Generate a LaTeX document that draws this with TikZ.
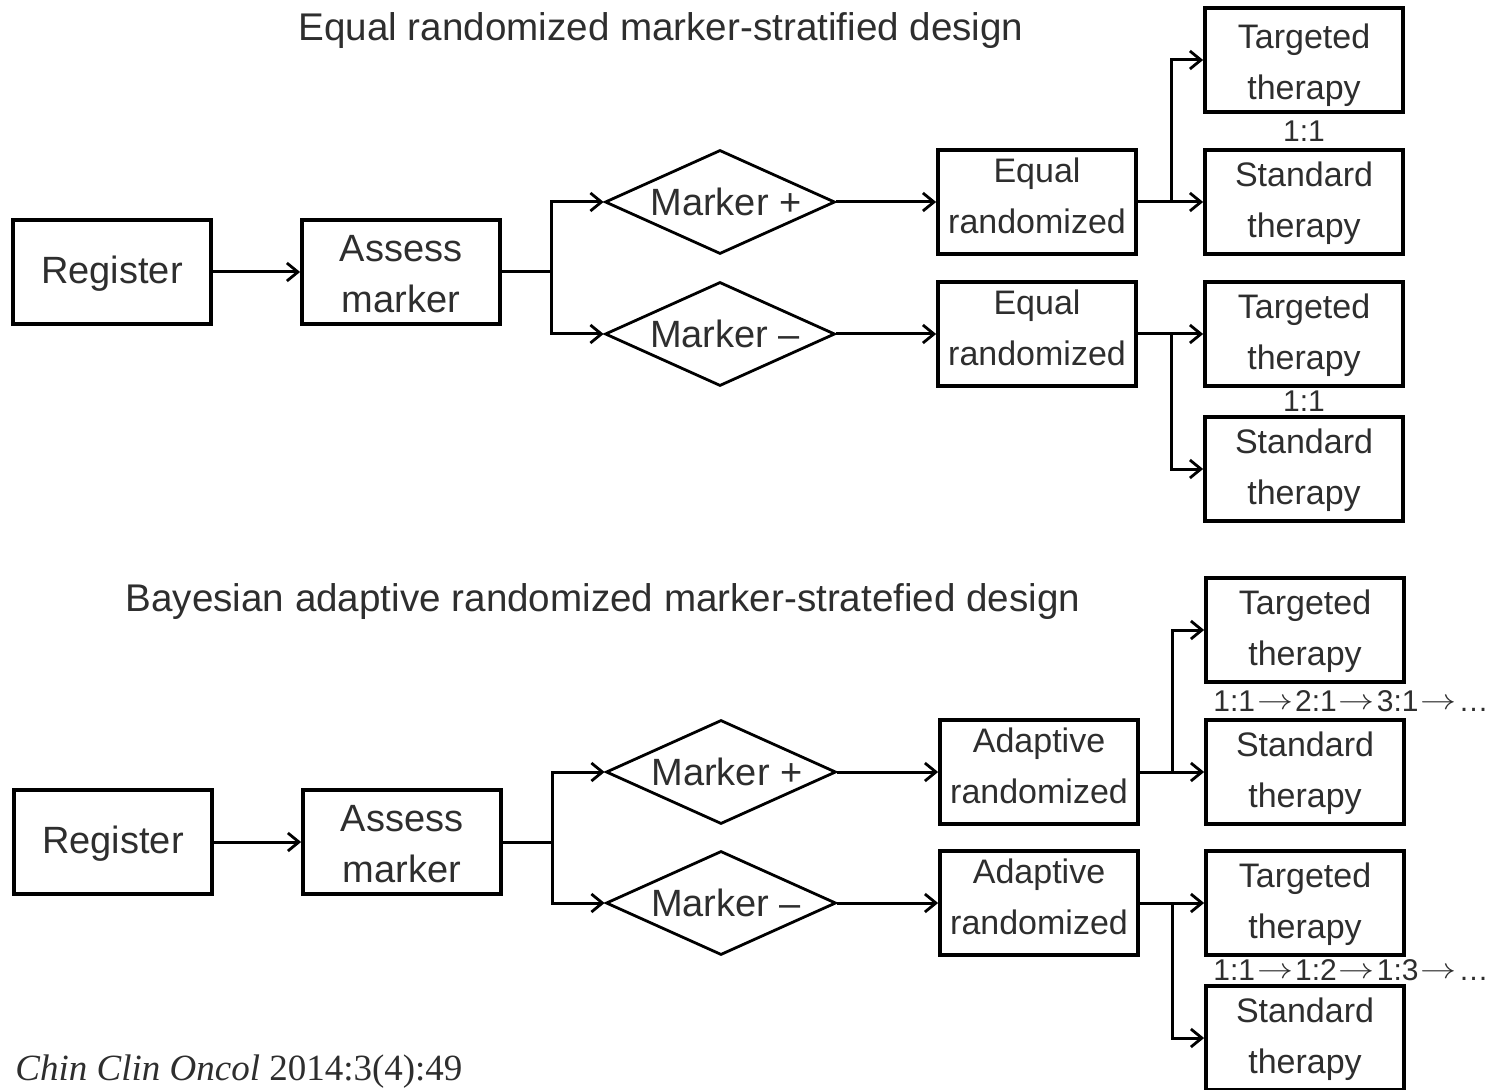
\documentclass[tikz,border=0pt]{standalone}
\usepackage{fontspec}
\setmainfont{Liberation Sans}
\newfontfamily\citefont{Liberation Serif}
\usetikzlibrary{shapes.geometric,arrows.meta}
\definecolor{txt}{HTML}{2E2E2E}
% two centred lines, moved up or down by #1 without changing the text box
\newcommand{\twolines}[3][0pt]{\raisebox{#1}[\height][\depth]{\begin{tabular}{@{}c@{}}#2\\#3\end{tabular}}}
% arrow between successive ratios
\newcommand{\nextratio}{\hspace{1pt}\raisebox{0.8pt}{\scalebox{1.25}[1]{$\rightarrow$}}\hspace{1pt}}
\begin{document}
\begin{tikzpicture}[x=0.5pt,y=-0.5pt,
  bigtext/.style={font=\fontsize{19}{25.5}\selectfont},
  smalltext/.style={font=\fontsize{17}{25.5}\selectfont},
  box/.style={draw, line width=1.9pt, minimum width=99pt, minimum height=52pt,
    inner sep=0pt, align=center, text=txt},
  bigbox/.style={box, bigtext},
  smallbox/.style={box, smalltext},
  decide/.style={draw, shape=diamond, line width=1.4pt, minimum width=115pt,
    minimum height=52pt, inner sep=0pt, text=txt, bigtext},
  ln/.style={line width=1.5pt},
  arr/.style={ln, -{Straight Barb[length=5.5pt,width=9pt,line width=1.4pt]}},
  ratio/.style={text=txt, font=\fontsize{15}{16}\selectfont, inner sep=0pt},
  heading/.style={text=txt, font=\fontsize{19.3}{22}\selectfont, inner sep=0pt, anchor=base}]

\useasboundingbox (0,0) rectangle (1491,1090);

% ---------- equal randomized design ----------
\node[heading] (title1) at (661,41) {Equal randomized marker-stratified design};

\node[bigbox] (reg1) at (112,272) {\raisebox{-1pt}[\height][\depth]{Register}};
\node[bigbox] (ass1) at (401,272) {\twolines[-2.5pt]{Assess}{marker}};
\node[decide] (mp1) at (720,202) {\makebox[0pt]{\hspace{6pt}Marker +}};
\node[decide] (mm1) at (720,334) {\makebox[0pt]{\hspace{5pt}Marker –}};
\node[smallbox] (er1) at (1037,202) {\twolines[2pt]{Equal}{randomized}};
\node[smallbox] (er2) at (1037,334) {\twolines[2pt]{Equal}{randomized}};
\node[smallbox] (tt1) at (1304,60) {\twolines[-2pt]{Targeted}{therapy}};
\node[smallbox] (st1) at (1304,202) {\twolines{Standard}{therapy}};
\node[smallbox] (tt2) at (1304,334) {\twolines{Targeted}{therapy}};
\node[smallbox] (st2) at (1304,469) {\twolines{Standard}{therapy}};
\node[ratio] (r1) at (1304,131) {1:1};
\node[ratio] (r2) at (1304,401) {1:1};

\coordinate (s1) at (551,272);
\coordinate (b1) at (1171,202);
\coordinate (b2) at (1171,334);
\draw[arr] (reg1) -- (ass1);
\draw[ln] (ass1.east) -- (s1);
\draw[arr] (s1) |- (mp1.west);
\draw[arr] (s1) |- (mm1.west);
\draw[arr] (mp1.east) -- (er1.west);
\draw[arr] (mm1.east) -- (er2.west);
\draw[arr] (er1.east) -- (st1.west);
\draw[arr] (b1) |- (tt1.west);
\draw[arr] (er2.east) -- (tt2.west);
\draw[arr] (b2) |- (st2.west);

% ---------- Bayesian adaptive design ----------
\node[heading] (title2) at (603,611) {Bayesian adaptive randomized marker-stratefied design};

\node[bigbox] (reg2) at (113,842) {\raisebox{-1pt}[\height][\depth]{Register}};
\node[bigbox] (ass2) at (402,842) {\twolines[-2.5pt]{Assess}{marker}};
\node[decide] (mp2) at (721,772) {\makebox[0pt]{\hspace{6pt}Marker +}};
\node[decide] (mm2) at (721,903) {\makebox[0pt]{\hspace{5pt}Marker –}};
\node[smallbox] (ar1) at (1039,772) {\twolines[2pt]{Adaptive}{randomized}};
\node[smallbox] (ar2) at (1039,903) {\twolines[2pt]{Adaptive}{randomized}};
\node[smallbox] (tt3) at (1305,630) {\twolines{Targeted}{therapy}};
\node[smallbox] (st3) at (1305,772) {\twolines{Standard}{therapy}};
\node[smallbox] (tt4) at (1305,903) {\twolines{Targeted}{therapy}};
\node[smallbox] (st4) at (1305,1038) {\twolines{Standard}{therapy}};
\node[ratio, anchor=west] (r3) at (1213,701) {1:1\nextratio 2:1\nextratio 3:1\nextratio …};
\node[ratio, anchor=west] (r4) at (1213,970) {1:1\nextratio 1:2\nextratio 1:3\nextratio …};

\coordinate (s2) at (552,842);
\coordinate (b3) at (1172,772);
\coordinate (b4) at (1172,903);
\draw[arr] (reg2) -- (ass2);
\draw[ln] (ass2.east) -- (s2);
\draw[arr] (s2) |- (mp2.west);
\draw[arr] (s2) |- (mm2.west);
\draw[arr] (mp2.east) -- (ar1.west);
\draw[arr] (mm2.east) -- (ar2.west);
\draw[arr] (ar1.east) -- (st3.west);
\draw[arr] (b3) |- (tt3.west);
\draw[arr] (ar2.east) -- (tt4.west);
\draw[arr] (b4) |- (st4.west);

% ---------- source line ----------
\node[anchor=base west, inner sep=0pt, text=txt, font=\citefont\fontsize{18.5}{20}\selectfont]
  (cite) at (15,1080) {\textit{Chin Clin Oncol} 2014:3(4):49};
\end{tikzpicture}
\end{document}
